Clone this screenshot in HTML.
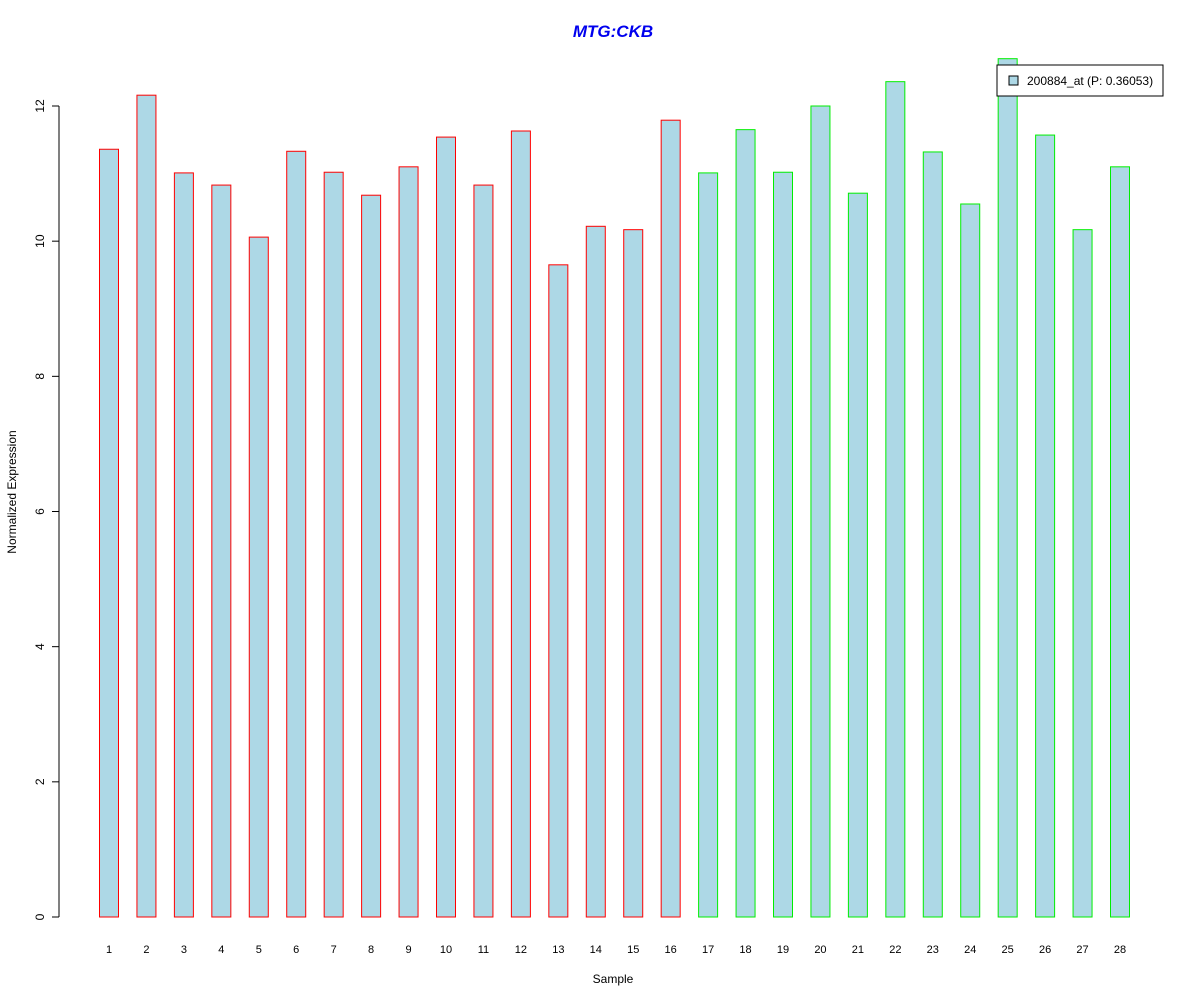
<!DOCTYPE html>
<html><head><meta charset="utf-8"><style>
body{margin:0;background:#fff;}
svg text{font-family:"Liberation Sans",sans-serif;}
</style></head><body>
<svg id="chart" width="1200" height="1000" xmlns="http://www.w3.org/2000/svg">
<rect width="1200" height="1000" fill="#fff"/>
<text x="613" y="37" text-anchor="middle" font-size="17" font-weight="bold" font-style="italic" fill="#0000ee">MTG:CKB</text>
<g id="yaxis"></g>
<g id="bars"></g>
<g id="xlabels"></g>
<text x="613" y="983" text-anchor="middle" font-size="12">Sample</text>
<text transform="translate(16,492) rotate(-90)" text-anchor="middle" font-size="12">Normalized Expression</text>
<g>
<rect x="997" y="65" width="166" height="31" fill="#fff" stroke="#000" stroke-width="1"/>
<rect x="1009" y="76" width="9" height="9" fill="#add8e6" stroke="#000" stroke-width="1"/>
<text x="1027" y="85" font-size="12">200884_at (P: 0.36053)</text>
</g>
</svg>
<script>
const categories = ["1","2","3","4","5","6","7","8","9","10","11","12","13","14","15","16","17","18","19","20","21","22","23","24","25","26","27","28"];
const values = [11.36,12.16,11.01,10.83,10.06,11.33,11.02,10.68,11.10,11.54,10.83,11.63,9.65,10.22,10.17,11.79,11.01,11.65,11.02,12.00,10.71,12.36,11.32,10.55,12.70,11.57,10.17,11.10];
const groups = ["a","a","a","a","a","a","a","a","a","a","a","a","a","a","a","a","b","b","b","b","b","b","b","b","b","b","b","b"];
const yTicks = [0,2,4,6,8,10,12];
const NS="http://www.w3.org/2000/svg";
const y0=917, yPer=(917-106)/12;
const yScale=v=>y0-v*yPer;
const xScale=i=>109+i*(1120-109)/27;
const bw=19;
function mk(tag,attrs,parent){const e=document.createElementNS(NS,tag);for(const k in attrs)e.setAttribute(k,attrs[k]);parent.appendChild(e);return e;}
const ya=document.getElementById('yaxis');
mk('line',{x1:59,x2:59,y1:yScale(0),y2:yScale(12),stroke:'#000'},ya);
yTicks.forEach(t=>{
  const l=mk('line',{x1:52,x2:59,y1:yScale(t),y2:yScale(t),stroke:'#000'},ya);
  
  
  const tx=mk('text',{transform:`translate(44,${yScale(t)}) rotate(-90)`,'text-anchor':'middle','font-size':12},ya);
  tx.textContent=t;
  
  
});
const bg=document.getElementById('bars'), xl=document.getElementById('xlabels');
values.forEach((v,i)=>{
  const r=mk('rect',{x:xScale(i)-bw/2,y:yScale(v),width:bw,height:yScale(0)-yScale(v),fill:'#add8e6',stroke:groups[i]==='a'?'#ff0000':'#00ee00','stroke-width':1},bg);
  
  
  const t=mk('text',{x:xScale(i),y:953,'text-anchor':'middle','font-size':11},xl);
  t.textContent=categories[i];
  
  
});
</script>
</body></html>
